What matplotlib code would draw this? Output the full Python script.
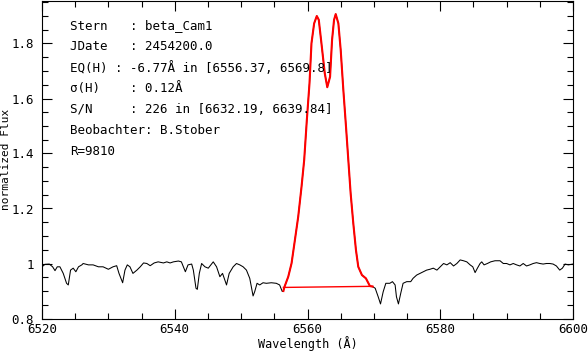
import numpy as np
import matplotlib.pyplot as plt
from matplotlib.ticker import MultipleLocator

# spectrum (wavelength in A, normalized flux)
wave = [6520.0, 6520.45, 6521.1, 6521.6, 6521.96, 6522.3, 6522.7, 6523.2, 6523.7, 6523.96,
        6524.3, 6524.7, 6525.1, 6525.5, 6526.0, 6526.2, 6527.0, 6527.7, 6528.5, 6529.2,
        6530.0, 6530.7, 6531.25, 6531.6, 6532.15, 6532.5, 6532.85, 6533.25, 6533.7, 6534.3,
        6534.8, 6535.3, 6535.8, 6536.3, 6536.9, 6537.5, 6538.3, 6538.8, 6539.3, 6539.8,
        6540.55, 6541.0, 6541.6, 6542.0, 6542.55, 6542.8, 6543.2, 6543.4, 6543.7, 6544.05,
        6544.55, 6545.05, 6545.8, 6546.3, 6546.8, 6547.2, 6547.8, 6548.2, 6548.8, 6549.3,
        6549.8, 6550.3, 6550.8, 6551.3, 6551.8, 6552.05, 6552.4, 6552.8, 6553.3, 6553.8,
        6554.55, 6555.3, 6555.8, 6556.2,
        6556.37, 6556.5, 6557.1, 6557.6, 6558.1, 6558.6, 6559.1, 6559.5, 6559.9, 6560.3,
        6560.6, 6561.0, 6561.4, 6561.7, 6562.1, 6562.6, 6562.98, 6563.4, 6563.7, 6564.0,
        6564.25, 6564.65, 6565.0, 6565.4, 6565.8, 6566.15, 6566.5, 6566.9, 6567.3, 6567.65,
        6568.2, 6568.8, 6569.4, 6569.8,
        6570.2, 6570.65, 6571.0, 6571.4, 6571.8, 6572.4, 6572.8, 6573.2, 6573.4, 6573.7,
        6574.05, 6574.4, 6574.95, 6575.55, 6575.9, 6576.45, 6576.95, 6577.45, 6577.95, 6578.45,
        6578.95, 6579.5, 6580.0, 6580.5, 6581.0, 6581.5, 6582.0, 6582.5, 6583.0, 6583.5,
        6584.0, 6584.5, 6584.9, 6585.25, 6585.6, 6586.0, 6586.25, 6586.6, 6587.1, 6587.6,
        6588.25, 6589.0, 6589.5, 6590.0, 6590.5, 6591.0, 6591.5, 6592.0, 6592.5, 6593.0,
        6593.5, 6594.0, 6594.5, 6595.0, 6595.5, 6596.0, 6596.5, 6597.0, 6597.5, 6598.0,
        6598.4, 6598.8, 6599.3, 6600.0]
flux = [0.988, 0.997, 0.998, 0.988, 0.974, 0.988, 0.988, 0.964, 0.928, 0.922,
        0.976, 0.983, 0.970, 0.988, 0.995, 1.000, 0.995, 0.995, 0.988, 0.988,
        0.979, 0.988, 0.992, 0.964, 0.930, 0.976, 0.995, 0.988, 0.964, 0.976,
        0.988, 1.002, 1.000, 0.992, 1.002, 1.006, 1.002, 1.006, 1.002, 1.006,
        1.009, 1.006, 0.970, 0.995, 0.998, 0.976, 0.910, 0.906, 0.964, 1.000,
        0.988, 0.983, 1.006, 0.988, 0.952, 0.964, 0.922, 0.964, 0.988, 1.000,
        0.995, 0.988, 0.976, 0.946, 0.882, 0.898, 0.928, 0.922, 0.930, 0.928,
        0.930, 0.928, 0.922, 0.898,
        0.900, 0.913, 0.952, 1.001, 1.085, 1.170, 1.279, 1.376, 1.522, 1.655,
        1.801, 1.873, 1.900, 1.886, 1.801, 1.692, 1.641, 1.679, 1.813, 1.886,
        1.907, 1.873, 1.777, 1.631, 1.498, 1.376, 1.255, 1.146, 1.049, 0.988,
        0.958, 0.946, 0.918, 0.916,
        0.910, 0.879, 0.853, 0.897, 0.928, 0.928, 0.934, 0.922, 0.879, 0.853,
        0.892, 0.928, 0.934, 0.934, 0.946, 0.958, 0.964, 0.970, 0.976, 0.979,
        0.983, 0.976, 0.988, 1.000, 0.995, 1.003, 0.991, 1.000, 1.013, 1.010,
        1.006, 0.995, 0.988, 0.967, 0.983, 1.000, 1.006, 0.995, 1.000, 1.006,
        1.010, 1.010, 1.000, 1.000, 0.995, 1.000, 0.995, 0.991, 1.000, 0.991,
        0.995, 1.000, 1.003, 1.000, 0.998, 1.000, 1.000, 0.998, 0.991, 0.976,
        0.983, 0.998, 0.995, 0.998]

# integration window and its straight baseline
eq_lo, eq_hi = 6556.37, 6569.8
base_flux = [0.913, 0.917]

info = ["Stern   : beta_Cam1",
        "JDate   : 2454200.0",
        "EQ(H) : -6.77\u00c5 in [6556.37, 6569.8]",
        "\u03c3(H)    : 0.12\u00c5",
        "S/N     : 226 in [6632.19, 6639.84]",
        "Beobachter: B.Stober",
        "R=9810"]

plt.rcParams['font.family'] = ['DejaVu Sans Mono']
fig = plt.figure(figsize=(5.88, 3.51), dpi=100)
ax = fig.add_axes([42/588, 1 - 318.5/351, 531/588, 318/351])

wave = np.array(wave)
flux = np.array(flux)
ax.plot(wave, flux, color='black', lw=0.75)
sel = (wave >= eq_lo) & (wave <= eq_hi)
ax.plot(wave[sel], flux[sel], color='red', lw=1.5)
ax.plot([eq_lo, eq_hi], base_flux, color='red', lw=1.0)

ax.set_xlim(6520, 6600)
ax.set_ylim(0.8, 0.8 + 318/275)
ax.xaxis.set_major_locator(MultipleLocator(20))
ax.xaxis.set_minor_locator(MultipleLocator(5))
ax.yaxis.set_major_locator(MultipleLocator(0.2))
ax.yaxis.set_minor_locator(MultipleLocator(0.05))
ax.yaxis.set_major_formatter(plt.FuncFormatter(lambda v, p: '1' if abs(v - 1) < 1e-9 else f'{v:.1f}'))
ax.tick_params(which='both', direction='in', top=True, right=True, labelsize=9, width=0.8)
ax.tick_params(which='major', length=7)
ax.tick_params(which='minor', length=4)
ax.tick_params(axis='x', pad=3)
ax.tick_params(axis='y', pad=6)
for s in ax.spines.values():
    s.set_linewidth(0.8)

ax.set_xlabel('Wavelength (\u00c5)', fontsize=8.5, va='center')
ax.xaxis.set_label_coords(0.5, (318.5 - 344) / 318)
ax.set_ylabel('normalized Flux', fontsize=8, va='center')
ax.yaxis.set_label_coords((6 - 42) / 531, 0.5)

for i, line in enumerate(info):
    ax.text(28/531, (318.5 - 26 - 20.9*i)/318, line, transform=ax.transAxes,
            fontsize=9, va='center', ha='left')

fig.savefig('out.png', dpi=100)
